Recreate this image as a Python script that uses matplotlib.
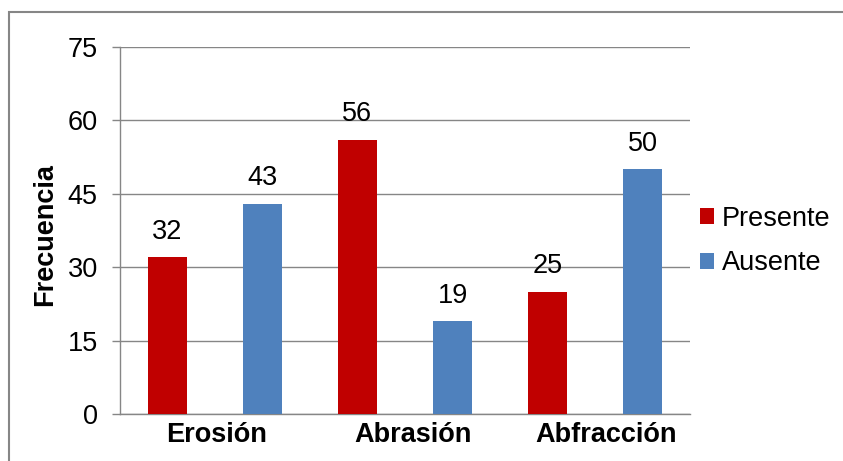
import matplotlib.pyplot as plt
import matplotlib.transforms as mtransforms
from matplotlib.patches import Rectangle
import numpy as np

# Frecuencia de lesiones por tipo
categorias = ["Erosión", "Abrasión", "Abfracción"]
presente = [32, 56, 25]
ausente = [43, 19, 50]
y_ticks = [0, 15, 30, 45, 60, 75]

plt.rcParams['font.family'] = ['Liberation Sans', 'DejaVu Sans']

rojo = "#C00000"
azul = "#4F81BD"
gris = "#868686"
fs = 19.5

fig = plt.figure(figsize=(8.43, 4.61), dpi=100)
ax = fig.add_axes([120 / 843, 1 - 414 / 461, 570 / 843, 367 / 461])

x = np.arange(len(categorias))
ancho = 0.205
b1 = ax.bar(x - 0.25, presente, ancho, color=rojo, label="Presente", zorder=3)
b2 = ax.bar(x + 0.25, ausente, ancho, color=azul, label="Ausente", zorder=3)

# etiquetas de valor sobre cada barra
for barras in (b1, b2):
    for b in barras:
        ax.annotate(f"{b.get_height():g}",
                    (b.get_x() + b.get_width() / 2, b.get_height()),
                    xytext=(0, 9), textcoords="offset points",
                    ha="center", va="bottom", fontsize=fs)

ax.set_xlim(-0.5, 2.5)
ax.set_ylim(0, 75)
ax.set_yticks(y_ticks)
ax.set_xticks(x)
ax.set_xticklabels(categorias, fontsize=fs, fontweight="bold")
ax.tick_params(axis="x", length=0, pad=6)
ax.tick_params(axis="y", length=6, width=1, color=gris, labelsize=fs, pad=10)
ax.yaxis.grid(True, color=gris, linewidth=1, zorder=0)
ax.set_axisbelow(True)

# pequeño corrimiento a la derecha de las etiquetas de categoría (en px)
for lbl, dx in zip(ax.get_xticklabels(), [2, 8, 11]):
    lbl.set_transform(lbl.get_transform() +
                      mtransforms.ScaledTranslation(dx / 100, 0, fig.dpi_scale_trans))

for lado in ("top", "right"):
    ax.spines[lado].set_visible(False)
for lado in ("left", "bottom"):
    ax.spines[lado].set_color(gris)
    ax.spines[lado].set_linewidth(1)

ax.set_ylabel("Frecuencia", fontsize=fs, fontweight="bold")
ax.yaxis.set_label_coords(-0.1085, 0.49)

fig.legend(loc="center left", bbox_to_anchor=(700 / 843, 1 - 241 / 461),
           frameon=False, fontsize=fs, handlelength=0.5, handleheight=0.5,
           handletextpad=0.3, labelspacing=0.7, borderpad=0,
           borderaxespad=0)

# marco del gráfico
fig.patches.append(Rectangle((9 / 843, -0.1), 1.2, 1 - 12 / 461 + 0.1,
                             transform=fig.transFigure, fill=False,
                             edgecolor=gris, linewidth=1.5))

fig.savefig("out.png", dpi=100)
